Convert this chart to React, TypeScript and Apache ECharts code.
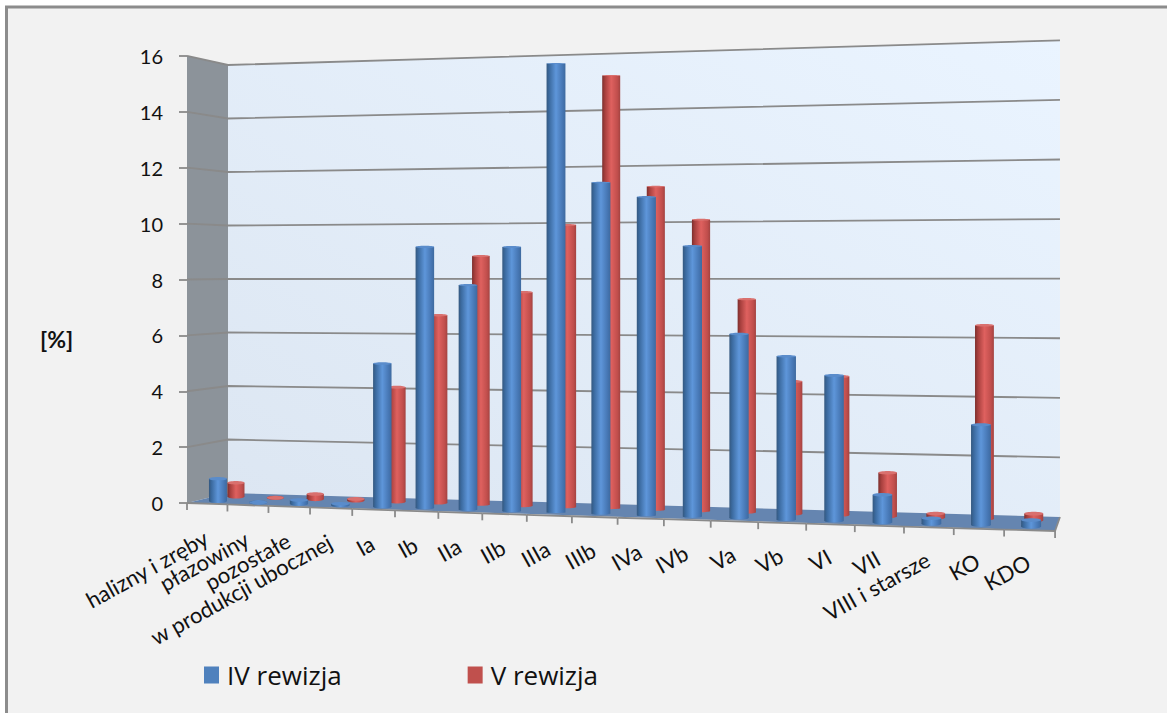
import React, { useEffect, useRef } from "react";
import * as echarts from "echarts";

const categories = ["halizny i zręby", "płazowiny", "pozostałe", "w produkcji ubocznej", "Ia", "Ib", "IIa", "IIb", "IIIa", "IIIb", "IVa", "IVb", "Va", "Vb", "VI", "VII", "VIII i starsze", "KO", "KDO"];
const revisionIV = [0.87, 0.04, 0.2, 0.12, 5.1, 9.2, 7.87, 9.19, 15.5, 11.39, 10.89, 9.22, 6.25, 5.52, 4.9, 0.97, 0.24, 3.35, 0.27];
const revisionV = [0.57, 0.03, 0.25, 0.12, 4.17, 6.76, 8.87, 7.59, 9.95, 15.15, 11.26, 10.1, 7.37, 4.57, 4.76, 1.53, 0.2, 6.52, 0.28];
const yTicks = [0, 2, 4, 6, 8, 10, 12, 14, 16];
const seriesNames = ["IV rewizja", "V rewizja"];

const GRID = { left: 187, top: 56, width: 868, height: 447 };
const N = categories.length;
const MAXV = 16;
const BLUE_D = 0.27;
const RED_D = 0.72;
const FONT = "Lato";

// perspective projection of (u along floor, v value, d depth 0 front..1 back)
function project(u: number, v: number, d: number): [number, number] {
  const x0 = 187 + 40.14 * u + 0.292 * u * u;
  const x = x0 + d * (41 - 1.9 * u);
  const y0 = 503 + 1.474 * u;
  const y1 = 493 + 1.263 * u;
  const unit0 = 27.94 + 0.161 * u;
  const unit1 = 26.75 + 0.16 * u;
  const base = y0 + (y1 - y0) * d;
  const unit = unit0 + (unit1 - unit0) * d;
  return [x, base - v * unit];
}
// converts a point of the flat ECharts axes into floor/value parameters
function unflatten(p: number[]): [number, number] {
  const u = ((p[0] - GRID.left) / GRID.width) * N;
  const v = ((GRID.top + GRID.height - p[1]) / GRID.height) * MAXV;
  return [u, v];
}
function grad(stops: [number, string][]) {
  return new echarts.graphic.LinearGradient(0, 0, 1, 0, stops.map(([offset, color]) => ({ offset, color })));
}

const blueStops: [number, string][] = [[0, "#34587f"], [0.14, "#3b6a9f"], [0.5, "#5e96da"], [0.85, "#4676b3"], [1, "#3e6a9f"]];
const redStops: [number, string][] = [[0, "#7c2f2d"], [0.16, "#a8403e"], [0.5, "#df615f"], [0.85, "#c04e4c"], [1, "#a34341"]];

function barRenderer(depth: number, stops: [number, string][], topColor: string, baseW: number) {
  return (_: any, api: any) => {
    const i = api.value(0);
    const [u, v] = unflatten(api.coord([i, api.value(1)]));
    const [cx, top] = project(u, v, depth);
    const [, base] = project(u, 0, depth);
    const w = baseW + 0.11 * i;
    const ry = 0.4 + ((top - 50) / 450) * 1.4;
    const topCy = Math.min(top + ry, base);
    const fill = grad(stops);
    return {
      type: "group",
      children: [
        { type: "ellipse", shape: { cx, cy: base, rx: w / 2, ry: ry + 0.3 }, style: { fill } },
        { type: "rect", shape: { x: cx - w / 2, y: topCy, width: w, height: Math.max(base - topCy, 0) }, style: { fill } },
        { type: "ellipse", shape: { cx, cy: topCy, rx: w / 2, ry }, style: { fill: topColor } },
      ],
    };
  };
}

function wallsRenderer() {
  const poly = (pts: [number, number, number][], fill: any) => ({
    type: "polygon",
    shape: { points: pts.map((p) => project(p[0], p[1], p[2])) },
    style: { fill },
  });
  return {
    type: "group",
    children: [
      poly([[0, MAXV, 1], [N, MAXV, 1], [N, 0, 1], [0, 0, 1]], new echarts.graphic.LinearGradient(0, 1, 1, 0, [
        { offset: 0, color: "#dce6f2" },
        { offset: 1, color: "#eaf4ff" },
      ])),
      poly([[0, MAXV, 0], [0, MAXV, 1], [0, 0, 1], [0, 0, 0]], "#8c939a"),
      poly([[0, 0, 0], [N, 0, 0], [N, 0, 1], [0, 0, 1]], "#6585b0"),
    ],
  };
}

function gridRenderer(_: any, api: any) {
  const [, v] = unflatten(api.coord([0, api.value(0)]));
  const style = { stroke: "#8a8a8a", lineWidth: 1.8, fill: "none" };
  if (v === 0) {
    return { type: "group", children: [] };
  }
  const a = project(0, v, 0);
  const b = project(0, v, 1);
  const c = project(N, v, 1);
  return {
    type: "group",
    children: [
      { type: "polyline", shape: { points: [a, b, c] }, style },
    ],
  };
}

function floorEdgeRenderer(_: any, api: any) {
  const u = api.value(0);
  const [x, y] = project(u, 0, 0);
  const style = { stroke: "#8a8a8a", lineWidth: 1.8 };
  const children: any[] = [{ type: "line", shape: { x1: x, y1: y, x2: x, y2: y + 7 }, style }];
  if (u < N) {
    const [x2, y2] = project(u + 1, 0, 0);
    children.push({ type: "line", shape: { x1: x, y1: y, x2, y2 }, style });
  } else {
    const [x2, y2] = project(u, 0, 1);
    children.push({ type: "line", shape: { x1: x, y1: y, x2, y2 }, style });
  }
  return { type: "group", children };
}

function labelRenderer(_: any, api: any) {
  const i = api.value(0);
  const [u] = unflatten(api.coord([i, 0]));
  const [x] = project(u, 0, 0);
  return {
    type: "text",
    x: x - 1,
    y: 536 + 1.35 * i,
    rotation: (29 * Math.PI) / 180,
    style: {
      text: categories[i],
      fill: "#111",
      fontFamily: FONT,
      fontSize: 22,
      align: "right",
      verticalAlign: "middle",
    },
  };
}

export default function App() {
  const ref = useRef<HTMLDivElement>(null);
  useEffect(() => {
    const chart = echarts.init(ref.current!, undefined, { renderer: "svg" });
    const tickUs = Array.from({ length: N + 1 }, (_, k) => [k]);
    chart.setOption({
      animation: false,
      backgroundColor: "#ffffff",
      grid: { ...GRID, containLabel: false },
      xAxis: {
        type: "category",
        data: categories,
        axisLabel: { show: false },
        axisTick: { show: false },
        axisLine: { show: false },
      },
      yAxis: {
        type: "value",
        min: 0,
        max: MAXV,
        interval: 2,
        axisLine: { show: false },
        axisTick: { show: true, length: 8, lineStyle: { color: "#8a8a8a", width: 1.8 } },
        splitLine: { show: false },
        axisLabel: { margin: 24, color: "#111", fontFamily: FONT, fontSize: 20 },
      },
      legend: {
        left: 199,
        top: 657,
        itemWidth: 15,
        itemHeight: 17,
        itemGap: 126,
        icon: "rect",
        selectedMode: false,
        data: [
          { name: seriesNames[0], itemStyle: { color: "#4f81bd" } },
          { name: seriesNames[1], itemStyle: { color: "#c0504d" } },
        ],
        textStyle: { color: "#111", fontFamily: "Open Sans", fontSize: 26, padding: [0, 0, 0, 3] },
      },
      graphic: [
        { type: "rect", z: 0, shape: { x: 6.5, y: 7, width: 1300, height: 900 }, style: { fill: "#f2f2f2", stroke: "#8c8c8c", lineWidth: 3 } },
        { type: "text", z: 10, x: 40, y: 327, style: { text: "[%]", fontFamily: FONT, fontSize: 23, fontWeight: "bold", fill: "#111" } },
      ],
      series: [
        { type: "custom", name: "ściany", z: 2, silent: true, data: [[0]], renderItem: wallsRenderer },
        { type: "custom", name: "siatka", z: 3, silent: true, data: yTicks.map((t) => [t]), encode: { y: 0 }, renderItem: gridRenderer },
        { type: "custom", name: "oś", z: 3, silent: true, data: tickUs, renderItem: floorEdgeRenderer },
        {
          type: "custom", name: seriesNames[1], z: 4, silent: true,
          data: revisionV.map((v, i) => [i, v]), encode: { x: 0, y: 1 },
          itemStyle: { color: "#c0504d" },
          renderItem: barRenderer(RED_D, redStops, "#d9706e", 17),
        },
        {
          type: "custom", name: seriesNames[0], z: 5, silent: true,
          data: revisionIV.map((v, i) => [i, v]), encode: { x: 0, y: 1 },
          itemStyle: { color: "#4f81bd" },
          renderItem: barRenderer(BLUE_D, blueStops, "#5a8ccb", 18),
        },
        { type: "custom", name: "etykiety", z: 6, silent: true, data: categories.map((_, i) => [i]), renderItem: labelRenderer },
      ],
    });
    return () => chart.dispose();
  }, []);
  return <div ref={ref} style={{ position: "fixed", left: 0, top: 0, width: 1167, height: 713 }} />;
}
